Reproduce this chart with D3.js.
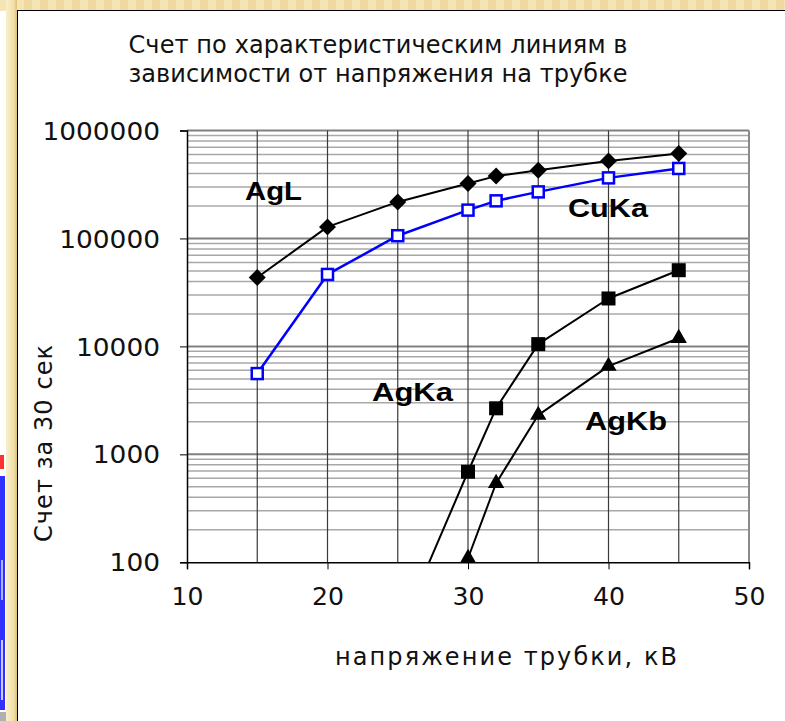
<!DOCTYPE html>
<html>
<head>
<meta charset="utf-8">
<script src="https://cdn.jsdelivr.net/npm/d3@7/dist/d3.min.js"></script>
<style>
  html, body { margin: 0; padding: 0; background: #fff; }
  svg { display: block; }
</style>
</head>
<body>
<svg id="chart" width="785" height="721"></svg>
<script>
// Tube voltage, kV
const voltage = [15, 20, 25, 30, 32, 35, 40, 45];
// Counts per 30 s for each characteristic line
const agL  = [43500, 128000, 218000, 323000, 378000, 429000, 523000, 612000];
const cuKa = [5600, 46400, 106000, 183000, 223000, 270000, 364000, 445000];
const agKaVoltage = [25, 30, 32, 35, 40, 45];
const agKa = [21, 690, 2670, 10500, 27800, 50800];
const agKbVoltage = [25, 30, 32, 35, 40, 45];
const agKb = [11, 109, 540, 2310, 6570, 11900];

const xTicks = [10, 20, 30, 40, 50];
const yTicks = [100, 1000, 10000, 100000, 1000000];
const xGrid = [15, 20, 25, 30, 35, 40, 45, 50];

const titleLines = ["Счет по характеристическим линиям в", "зависимости от напряжения на трубке"];
const xTitle = "напряжение трубки, кВ";
const yTitle = "Счет за 30 сек";

const svg = d3.select("#chart");

// ---- slide decoration around the chart ----
const defs = svg.append("defs");
const stripe = defs.append("linearGradient").attr("id", "stripe")
  .attr("x1", 0).attr("x2", 1).attr("y1", 0).attr("y2", 0);
stripe.append("stop").attr("offset", "0%").attr("stop-color", "#faeecb");
stripe.append("stop").attr("offset", "70%").attr("stop-color", "#f3e0a8");
stripe.append("stop").attr("offset", "100%").attr("stop-color", "#dcc07a");
const topPat = defs.append("pattern").attr("id", "topPat")
  .attr("width", 16).attr("height", 10).attr("patternUnits", "userSpaceOnUse");
topPat.append("rect").attr("width", 16).attr("height", 10).attr("fill", "#f5e4b4");
topPat.append("rect").attr("x", 8).attr("width", 8).attr("height", 10).attr("fill", "#efd9a0");

svg.append("rect").attr("x", 0).attr("y", 0).attr("width", 785).attr("height", 721).attr("fill", "#fff");
svg.append("rect").attr("x", 0).attr("y", 0).attr("width", 785).attr("height", 11).attr("fill", "url(#topPat)");
svg.append("rect").attr("x", 6).attr("y", 0).attr("width", 11).attr("height", 721).attr("fill", "url(#stripe)");
// edge of a neighbouring slide thumbnail
const thumb = svg.append("g");
thumb.append("rect").attr("x", 0).attr("y", 455).attr("width", 4).attr("height", 14).attr("fill", "#ff3030");
thumb.append("rect").attr("x", 0).attr("y", 476).attr("width", 5).attr("height", 234).attr("fill", "#3030ff");
thumb.append("rect").attr("x", 1).attr("y", 560).attr("width", 2).attr("height", 40).attr("fill", "#aab4ff");
thumb.append("rect").attr("x", 1).attr("y", 640).attr("width", 2).attr("height", 60).attr("fill", "#c8ccff");
thumb.append("rect").attr("x", 0).attr("y", 712).attr("width", 6).attr("height", 9).attr("fill", "#b0b0b0");

// chart area frame
svg.append("rect").attr("x", 17.5).attr("y", 10.5).attr("width", 800).attr("height", 800)
  .attr("fill", "#fff").attr("stroke", "#000").attr("stroke-width", 1);

// ---- scales ----
const plotLeft = 187, plotRight = 749, plotTop = 130.5, plotBottom = 562.3;
const x = d3.scaleLinear().domain([10, 50]).range([plotLeft, plotRight]);
const y = d3.scaleLog().domain([100, 1000000]).range([plotBottom, plotTop]);

// stretch a text to a given width
function fit(sel, len, mode) {
  sel.attr("textLength", len).attr("lengthAdjust", mode || "spacingAndGlyphs");
  return sel;
}

// ---- grid ----
const minor = [];
for (let d = 100; d < 1000000; d *= 10) for (let k = 2; k <= 9; k++) minor.push(d * k);

const grid = svg.append("g");
grid.selectAll("line.minor").data(minor).join("line")
  .attr("x1", plotLeft).attr("x2", plotRight)
  .attr("y1", d => y(d)).attr("y2", d => y(d))
  .attr("stroke", "#a8a8a8").attr("stroke-width", 1.5);
grid.selectAll("line.major").data(yTicks.slice(1)).join("line")
  .attr("x1", plotLeft).attr("x2", plotRight)
  .attr("y1", d => y(d)).attr("y2", d => y(d))
  .attr("stroke", "#808080").attr("stroke-width", 2);
grid.selectAll("line.vert").data(xGrid).join("line")
  .attr("x1", d => x(d)).attr("x2", d => x(d))
  .attr("y1", plotTop).attr("y2", plotBottom)
  .attr("stroke", d => d === 50 ? "#8a8a8a" : "#3a3a3a")
  .attr("stroke-width", d => d === 50 ? 2 : 1.2);

// ---- axes ----
const tf = "DejaVu Sans, Verdana, sans-serif";
const yAxis = svg.append("g").attr("transform", `translate(${plotLeft},0)`)
  .call(d3.axisLeft(y).tickValues(yTicks).tickSize(7).tickPadding(20).tickFormat(d3.format("d")));
yAxis.select(".domain").attr("stroke", "#000").attr("stroke-width", 1.5);
yAxis.selectAll(".tick line").attr("stroke", "#000");
yAxis.selectAll(".tick text")
  .attr("font-family", tf).attr("font-size", 24)
  .attr("fill", "#111").attr("dy", "0.36em")
  .each(function (d) { fit(d3.select(this), String(d).length * 16.8); });

const xAxis = svg.append("g").attr("transform", `translate(0,${plotBottom})`)
  .call(d3.axisBottom(x).tickValues(xTicks).tickSize(7).tickPadding(19));
xAxis.select(".domain").attr("stroke", "#000").attr("stroke-width", 1.5);
xAxis.selectAll(".tick line").attr("stroke", "#000");
xAxis.selectAll(".tick text")
  .attr("font-family", tf).attr("font-size", 24)
  .attr("fill", "#111").attr("dy", "0.71em")
  .each(function () { fit(d3.select(this), 32); });

// ---- titles ----
titleLines.forEach((t, i) => {
  fit(svg.append("text").attr("x", 378).attr("y", 53 + i * 29)
    .attr("text-anchor", "middle").attr("font-family", tf).attr("font-size", 24)
    .attr("fill", "#111").text(t), 499, "spacing");
});
fit(svg.append("text").attr("x", 506).attr("y", 665)
  .attr("text-anchor", "middle").attr("font-family", tf).attr("font-size", 24)
  .attr("fill", "#111").text(xTitle), 342, "spacing");
fit(svg.append("text").attr("transform", "translate(52,443.5) rotate(-90)")
  .attr("text-anchor", "middle").attr("font-family", tf).attr("font-size", 24)
  .attr("fill", "#111").text(yTitle), 197, "spacing");

// ---- series ----
defs.append("clipPath").attr("id", "plotClip")
  .append("rect").attr("x", plotLeft).attr("y", plotTop - 20)
  .attr("width", plotRight - plotLeft + 20).attr("height", plotBottom - plotTop + 20);

const line = d3.line().x(d => x(d[0])).y(d => y(d[1]));
const series = [
  { xs: voltage, ys: agL, color: "#000", width: 2, symbol: "diamond", size: 144, fill: "#000" },
  { xs: voltage, ys: cuKa, color: "#0000ff", width: 2.5, symbol: "square-open", size: 11, fill: "#fff", stroke: "#0000ff" },
  { xs: agKaVoltage, ys: agKa, color: "#000", width: 2, symbol: "square", size: 14, fill: "#000" },
  { xs: agKbVoltage, ys: agKb, color: "#000", width: 2, symbol: "triangle", size: 115, fill: "#000" }
];

const plot = svg.append("g").attr("clip-path", "url(#plotClip)");
series.forEach(s => {
  const pts = s.xs.map((v, i) => [v, s.ys[i]]);
  plot.append("path").datum(pts).attr("d", line)
    .attr("fill", "none").attr("stroke", s.color).attr("stroke-width", s.width)
    .attr("stroke-linejoin", "round");
});
series.forEach(s => {
  const pts = s.xs.map((v, i) => [v, s.ys[i]]).filter(p => p[1] >= 100);
  const g = svg.append("g");
  if (s.symbol === "square" || s.symbol === "square-open") {
    g.selectAll("rect").data(pts).join("rect")
      .attr("x", d => x(d[0]) - s.size / 2).attr("y", d => y(d[1]) - s.size / 2)
      .attr("width", s.size).attr("height", s.size)
      .attr("fill", s.fill).attr("stroke", s.stroke || "none").attr("stroke-width", s.stroke ? 2.5 : 0);
  } else if (s.symbol === "diamond") {
    const sym = d3.symbol().type(d3.symbolSquare).size(s.size);
    g.selectAll("path").data(pts).join("path")
      .attr("transform", d => `translate(${x(d[0])},${y(d[1])}) rotate(45)`)
      .attr("d", sym).attr("fill", s.fill);
  } else {
    const sym = d3.symbol().type(d3.symbolTriangle).size(s.size);
    g.selectAll("path").data(pts).join("path")
      .attr("transform", d => `translate(${x(d[0])},${y(d[1])})`)
      .attr("d", sym).attr("fill", s.fill);
  }
});

// ---- series labels ----
const labels = [
  { text: "AgL", x: 245, y: 200, w: 57 },
  { text: "CuKa", x: 568, y: 217, w: 80 },
  { text: "AgKa", x: 372, y: 401, w: 81 },
  { text: "AgKb", x: 585, y: 430, w: 82 }
];
labels.forEach(l => {
  fit(svg.append("text").attr("x", l.x).attr("y", l.y)
    .attr("font-family", "Liberation Sans, Arial, sans-serif").attr("font-weight", "bold")
    .attr("font-size", 26).attr("fill", "#000").text(l.text), l.w);
});
</script>
</body>
</html>
